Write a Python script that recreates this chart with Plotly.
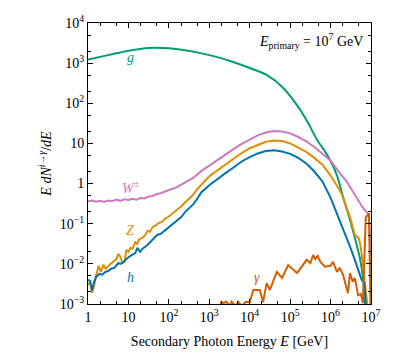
import numpy as np
import plotly.graph_objects as go

# log10(E/GeV) and log10(E dN/dE)
g_logE = [0, 0.5, 1.0, 1.5, 2.0, 2.4, 2.78, 3.2, 3.59, 4.0, 4.43, 4.83, 5.24, 5.45, 5.66, 5.85, 5.99, 6.16, 6.31, 6.45, 6.55, 6.65, 6.72, 6.80, 6.84, 6.88]
g_logY = [3.09, 3.2, 3.31, 3.38, 3.37, 3.32, 3.25, 3.15, 3.03, 2.88, 2.70, 2.38, 1.85, 1.5, 1.1, 0.82, 0.58, 0.2, -0.34, -0.8, -1.16, -1.55, -1.83, -2.33, -2.83, -3.2]

w_logE = [0, 0.1, 0.2, 0.3, 0.4, 0.5, 0.6, 0.7, 0.8, 0.9, 1.0, 1.1, 1.2, 1.3, 1.4, 1.5, 1.6, 1.7, 1.8, 1.9, 2.0, 2.2, 2.4, 2.6, 2.8, 3.0, 3.2, 3.4, 3.6, 3.8, 4.0, 4.2, 4.4, 4.6, 4.8, 5.0, 5.2, 5.4, 5.6, 5.8, 6.0, 6.2, 6.4, 6.6, 6.7, 6.8, 6.9, 6.95, 6.98, 7.0]
w_logY = [-0.44, -0.42, -0.45, -0.43, -0.46, -0.42, -0.44, -0.40, -0.43, -0.39, -0.41, -0.38, -0.40, -0.36, -0.37, -0.32, -0.31, -0.26, -0.24, -0.19, -0.16, -0.09, 0.02, 0.14, 0.31, 0.45, 0.60, 0.73, 0.86, 0.99, 1.10, 1.20, 1.27, 1.31, 1.30, 1.25, 1.16, 1.05, 0.91, 0.75, 0.57, 0.30, 0.05, -0.28, -0.45, -0.60, -0.72, -0.78, -1.5, -3.2]

z_logE = [0, 0.05, 0.1, 0.15, 0.2, 0.26, 0.32, 0.38, 0.44, 0.5, 0.56, 0.62, 0.7, 0.75, 0.8, 0.85, 0.9, 0.95, 1.0, 1.05, 1.1, 1.17, 1.22, 1.27, 1.33, 1.4, 1.47, 1.53, 1.6, 1.67, 1.75, 1.82, 1.9, 2.0, 2.1, 2.2, 2.3, 2.4, 2.5, 2.6, 2.7, 2.8, 3.0, 3.2, 3.4, 3.6, 3.8, 4.0, 4.2, 4.4, 4.6, 4.8, 5.0, 5.2, 5.4, 5.6, 5.8, 6.0, 6.2, 6.3, 6.4, 6.5, 6.6, 6.7, 6.75, 6.8, 6.85, 6.9, 6.93]
z_logY = [-2.53, -2.45, -2.72, -2.55, -2.3, -2.05, -2.2, -2.02, -2.12, -2.05, -2.0, -1.95, -1.88, -1.75, -1.82, -1.98, -1.95, -1.65, -1.7, -1.6, -1.62, -1.46, -1.5, -1.38, -1.36, -1.3, -1.18, -1.2, -1.08, -1.05, -0.98, -0.96, -0.88, -0.82, -0.74, -0.66, -0.57, -0.47, -0.38, -0.28, -0.14, -0.04, 0.18, 0.33, 0.48, 0.62, 0.76, 0.88, 0.97, 1.04, 1.07, 1.06, 1.0, 0.9, 0.79, 0.64, 0.47, 0.2, -0.12, -0.32, -0.6, -0.9, -1.28, -1.36, -1.6, -2.0, -2.4, -2.8, -3.2]

h_logE = [0, 0.05, 0.1, 0.15, 0.2, 0.28, 0.35, 0.43, 0.5, 0.57, 0.65, 0.75, 0.8, 0.87, 0.95, 1.05, 1.17, 1.22, 1.29, 1.35, 1.47, 1.55, 1.63, 1.71, 1.8, 1.91, 2.0, 2.1, 2.2, 2.3, 2.4, 2.5, 2.6, 2.7, 2.8, 3.0, 3.2, 3.4, 3.6, 3.8, 4.0, 4.2, 4.4, 4.6, 4.8, 5.0, 5.2, 5.4, 5.6, 5.8, 6.0, 6.2, 6.3, 6.4, 6.5, 6.6, 6.68, 6.77, 6.84, 6.88]
h_logY = [-2.4, -2.42, -2.66, -2.45, -2.33, -2.25, -2.27, -2.2, -2.18, -2.12, -2.1, -1.98, -2.0, -1.96, -1.88, -1.8, -1.73, -1.6, -1.7, -1.62, -1.53, -1.45, -1.36, -1.28, -1.25, -1.16, -1.1, -1.02, -0.94, -0.84, -0.71, -0.61, -0.52, -0.38, -0.22, -0.04, 0.12, 0.26, 0.40, 0.55, 0.66, 0.75, 0.81, 0.83, 0.80, 0.74, 0.64, 0.50, 0.30, 0.05, -0.35, -0.85, -1.08, -1.35, -1.62, -1.9, -2.16, -2.4, -2.48, -3.2]

gam_logE = [3.25, 3.3, 3.35, 3.42, 3.5, 3.55, 3.65, 3.72, 3.8, 3.9, 4.0, 4.09, 4.25, 4.33, 4.42, 4.5, 4.67, 4.8, 4.95, 5.17, 5.3, 5.41, 5.5, 5.57, 5.62, 5.68, 5.75, 5.86, 6.0, 6.06, 6.16, 6.23, 6.31, 6.43, 6.48, 6.55, 6.6, 6.68, 6.75, 6.8, 6.87, 6.95, 6.99]
gam_logY = [-3.2, -2.95, -2.98, -2.94, -3.05, -2.94, -3.05, -2.95, -3.05, -2.95, -2.95, -2.65, -2.65, -2.95, -2.48, -2.65, -2.2, -2.35, -2.03, -2.23, -2.05, -1.9, -1.98, -1.78, -1.88, -1.8, -1.95, -2.07, -2.05, -1.95, -2.2, -2.1, -2.28, -2.73, -2.23, -2.45, -2.35, -2.78, -2.75, -2.98, -0.84, -0.74, -3.2]

x_tickvals = [1, 10, 1e2, 1e3, 1e4, 1e5, 1e6, 1e7]
x_ticktext = ["1", "10", "10<sup>2</sup>", "10<sup>3</sup>", "10<sup>4</sup>", "10<sup>5</sup>", "10<sup>6</sup>", "10<sup>7</sup>"]
y_tickvals = [1e-3, 1e-2, 1e-1, 1, 10, 1e2, 1e3, 1e4]
y_ticktext = ["10<sup>−3</sup>", "10<sup>−2</sup>", "10<sup>−1</sup>", "1", "10", "10<sup>2</sup>", "10<sup>3</sup>", "10<sup>4</sup>"]

series = [
    ("g", g_logE, g_logY, "#029E73", "spline"),
    ("W", w_logE, w_logY, "#CC78BC", "linear"),
    ("Z", z_logE, z_logY, "#DE8F05", "linear"),
    ("h", h_logE, h_logY, "#0173B2", "linear"),
    ("gamma", gam_logE, gam_logY, "#D55E00", "linear"),
]

fig = go.Figure()
for name, le, ly, col, shape in series:
    fig.add_trace(go.Scatter(x=np.power(10.0, le), y=np.power(10.0, ly), mode="lines",
                             line=dict(color=col, width=2, shape=shape), name=name, showlegend=False))

font = "Liberation Serif, DejaVu Serif, serif"
labels = [
    (1.04, 3.15, "<i>g</i>", "#029E73"),
    (1.04, -0.09, "<i>W</i><sup>±</sup>", "#CC78BC"),
    (1.04, -1.16, "<i>Z</i>", "#DE8F05"),
    (1.04, -2.33, "<i>h</i>", "#0173B2"),
    (4.19, -2.33, "<i>γ</i>", "#D55E00"),
]
for lx, ly, t, c in labels:
    fig.add_annotation(x=lx, y=ly, text=t, showarrow=False, font=dict(family=font, size=14, color=c))

fig.add_annotation(x=0.98, y=0.935, xref="paper", yref="paper", xanchor="right", yanchor="middle",
                   text="<i>E</i><sub>primary</sub> = 10<sup>7</sup> GeV", showarrow=False,
                   font=dict(family=font, size=14, color="black"))

axis_common = dict(type="log", showgrid=False, zeroline=False, showline=True, linecolor="black",
                   linewidth=1, mirror="ticks", ticks="inside", ticklen=5, tickcolor="black",
                   automargin=False,
                   minor=dict(ticks="inside", ticklen=3, tickcolor="black", showgrid=False),
                   tickfont=dict(family=font, size=14, color="black"))

fig.update_xaxes(range=[0, 7], tickvals=x_tickvals, ticktext=x_ticktext,
                 title=dict(text="Secondary Photon Energy <i>E</i> [GeV]", font=dict(family=font, size=14, color="black"), standoff=12),
                 **axis_common)
fig.update_yaxes(range=[-3, 4], tickvals=y_tickvals, ticktext=y_ticktext,
                 title=dict(text="<i>E dN</i><sup><i>i</i>→<i>γ</i></sup>/<i>dE</i>", font=dict(family=font, size=14, color="black"), standoff=4),
                 **axis_common)

# the page body adds an 8 px offset, so the figure is sized and margined to compensate
fig.update_layout(width=387, height=353, margin=dict(l=80, r=24, t=15, b=57),
                  paper_bgcolor="white", plot_bgcolor="white", showlegend=False)

fig.write_html("out.html")
